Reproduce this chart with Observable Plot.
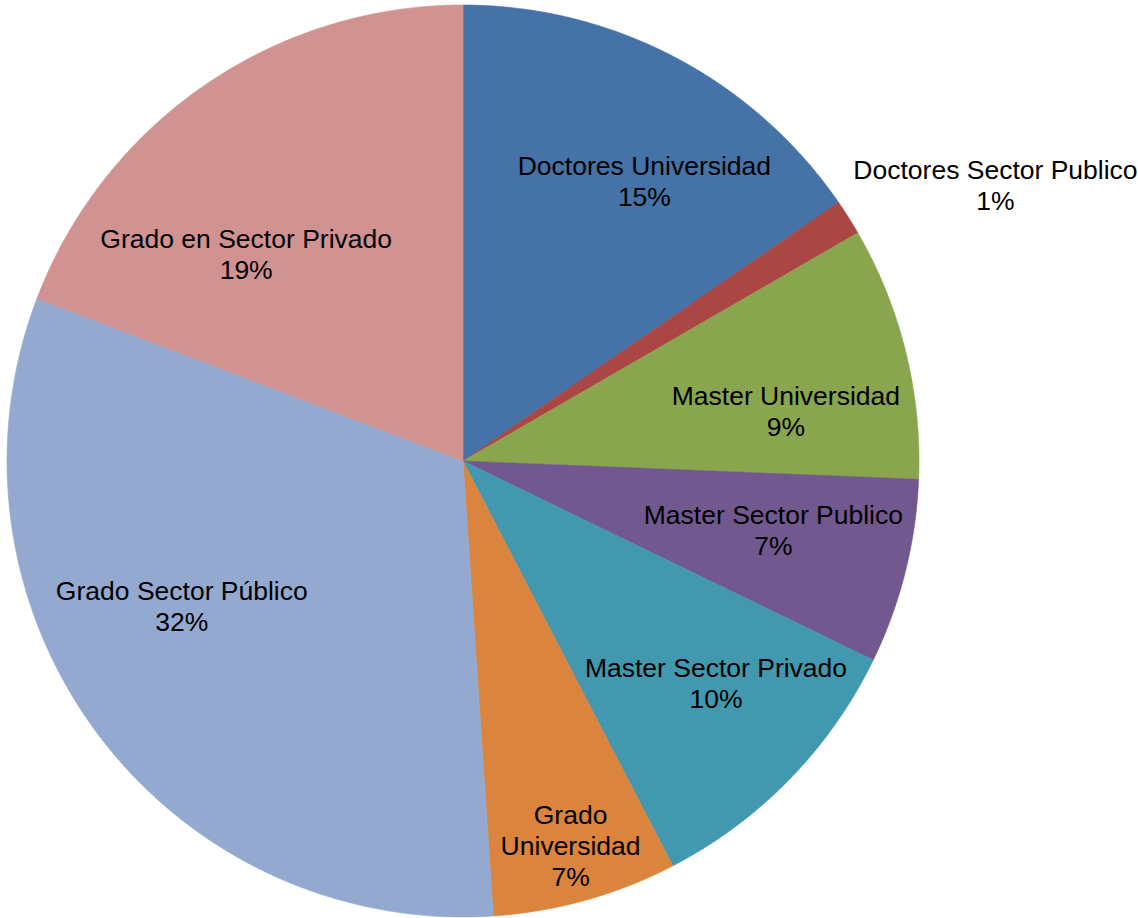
<!DOCTYPE html>
<html>
<head>
<meta charset="utf-8">
<script src="https://cdn.jsdelivr.net/npm/d3@7"></script>
<script src="https://cdn.jsdelivr.net/npm/@observablehq/plot@0.6"></script>
<style>
  html, body { margin: 0; padding: 0; background: #fff; }
  #chart svg { display: block; }
</style>
</head>
<body>
<div id="chart"></div>
<script>
// ---- data ----
const categories = [
  "Doctores Universidad",
  "Doctores Sector Publico",
  "Master Universidad",
  "Master Sector Publico",
  "Master Sector Privado",
  "Grado Universidad",
  "Grado Sector Público",
  "Grado en Sector Privado"
];
const labelText = [
  "Doctores Universidad",
  "Doctores Sector Publico",
  "Master Universidad",
  "Master Sector Publico",
  "Master Sector Privado",
  "Grado\nUniversidad",
  "Grado Sector Público",
  "Grado en Sector Privado"
];
const shares = [15.4, 1.26, 8.98, 6.55, 10.2, 6.55, 31.86, 19.2];
const colors = ["#4572A7", "#AA4643", "#89A54E", "#71588F", "#4198AF", "#DB843D", "#93A9CF", "#D19392"];

// ---- layout ----
const W = 1138, H = 918;
const cx = 462.5, cy = 460.5, R = 456;
// label placement: radial fraction and angular nudge (degrees) from slice mid-angle
const labelRadius = [0.73, 1.314, 0.716, 0.698, 0.739, 0.877, 0.695, 0.656];
const labelNudge = [5.3, 5.0, 5.3, -1.3, -2.9, 0, 9.0, -11.9];

const total = d3.sum(shares);
const pie = d3.pie().sort(null).value(d => d.value)(
  categories.map((c, i) => ({key: c, value: shares[i], i}))
);

// slice outlines in unit coordinates (y up)
const slicePts = [];
for (const s of pie) {
  const step = Math.PI / 720;
  slicePts.push({key: s.data.key, x: 0, y: 0});
  const n = Math.max(2, Math.ceil((s.endAngle - s.startAngle) / step));
  for (let k = 0; k <= n; k++) {
    const a = s.startAngle + (s.endAngle - s.startAngle) * k / n;
    slicePts.push({key: s.data.key, x: Math.sin(a), y: Math.cos(a)});
  }
  slicePts.push({key: s.data.key, x: 0, y: 0});
}

const labels = pie.map(s => {
  const i = s.data.i;
  const a = (s.startAngle + s.endAngle) / 2 + labelNudge[i] * Math.PI / 180;
  const r = labelRadius[i];
  const pct = Math.round(s.data.value / total * 100) + "%";
  return {x: r * Math.sin(a), y: r * Math.cos(a), text: labelText[i] + "\n" + pct};
});

const chart = Plot.plot({
  width: W,
  height: H,
  margin: 0,
  x: {domain: [-cx / R, (W - cx) / R], axis: null},
  y: {domain: [(cy - H) / R, cy / R], axis: null},
  color: {domain: categories, range: colors},
  style: {fontFamily: "'Liberation Sans', Arial, sans-serif", background: "#fff", overflow: "visible"},
  marks: [
    Plot.line(slicePts, {x: "x", y: "y", z: "key", fill: "key", stroke: "key", strokeWidth: 0.6, curve: "linear"}),
    Plot.text(labels, {x: "x", y: "y", text: "text", fontSize: 26.5, lineHeight: 1.17, dy: -1.5, fill: "#000", textAnchor: "middle", fontFamily: "'Liberation Sans', Arial, sans-serif"})
  ]
});
document.getElementById("chart").appendChild(chart);
</script>
</body>
</html>
